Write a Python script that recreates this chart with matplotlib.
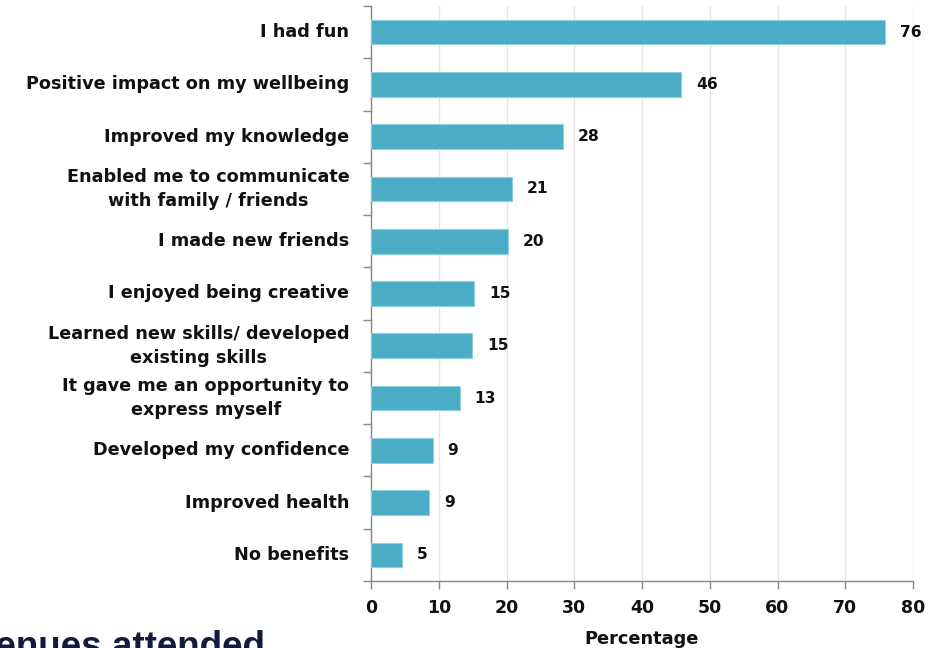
import matplotlib
matplotlib.use("Agg")
import matplotlib.pyplot as plt
import numpy as np

categories = [
    "I had fun",
    "Positive impact on my wellbeing",
    "Improved my knowledge",
    "Enabled me to communicate\nwith family / friends",
    "I made new friends",
    "I enjoyed being creative",
    "Learned new skills/ developed\nexisting skills",
    "It gave me an opportunity to\nexpress myself",
    "Developed my confidence",
    "Improved health",
    "No benefits",
]
values = [75.9, 45.8, 28.3, 20.8, 20.2, 15.2, 14.9, 13.1, 9.1, 8.6, 4.6]
x_ticks = [0, 10, 20, 30, 40, 50, 60, 70, 80]

bar_color = "#4BACC6"
text_color = "#111111"
font = "DejaVu Sans"

fig = plt.figure(figsize=(9.48, 6.48), dpi=100)
ax = fig.add_axes([371 / 948, 1 - 581 / 648, (913 - 371) / 948, (581 - 6) / 648])

n = len(categories)
y = np.arange(n)
ax.barh(y, values, height=0.47, color=bar_color, edgecolor="#8fd0e0", linewidth=0.8, zorder=3)

for yi, v in zip(y, values):
    ax.text(v + 2.2, yi, f"{v:.0f}", va="center", ha="left", fontsize=11.2,
            fontweight="bold", color=text_color, family=font)

ax.set_ylim(n - 0.5, -0.5)
ax.set_xlim(0, 80)

# category labels centred on the bars, tick marks on the boundaries
ax.set_yticks(np.arange(-0.5, n, 1.0))
ax.set_yticklabels([])
ax.tick_params(axis="y", length=6, width=1, color="#888888", direction="out")
for yi, lab in zip(y, categories):
    ax.text(-3.2, yi, lab, va="center", ha="right", fontsize=12.7, fontweight="bold",
            color=text_color, family=font, multialignment="center", linespacing=1.4)

ax.set_xticks(x_ticks)
ax.set_xticklabels([str(t) for t in x_ticks], fontsize=12.5, fontweight="bold",
                   color=text_color, family=font)
ax.tick_params(axis="x", length=6, width=1, color="#888888", direction="out", pad=7)
ax.set_xlabel("Percentage", fontsize=12.8, fontweight="bold", color=text_color,
              family=font, labelpad=9)

ax.grid(axis="x", color="#e6e6e6", linewidth=1, zorder=0)
for side in ["top", "right"]:
    ax.spines[side].set_visible(False)
for side in ["left", "bottom"]:
    ax.spines[side].set_color("#888888")
    ax.spines[side].set_linewidth(1)

fig.text(265 / 948, 1 - 657 / 648, "Venues attended", ha="right", va="baseline",
         fontsize=26.5, fontweight="bold", color="#141a3c", family="Liberation Sans")

fig.savefig("out.png", dpi=100)
